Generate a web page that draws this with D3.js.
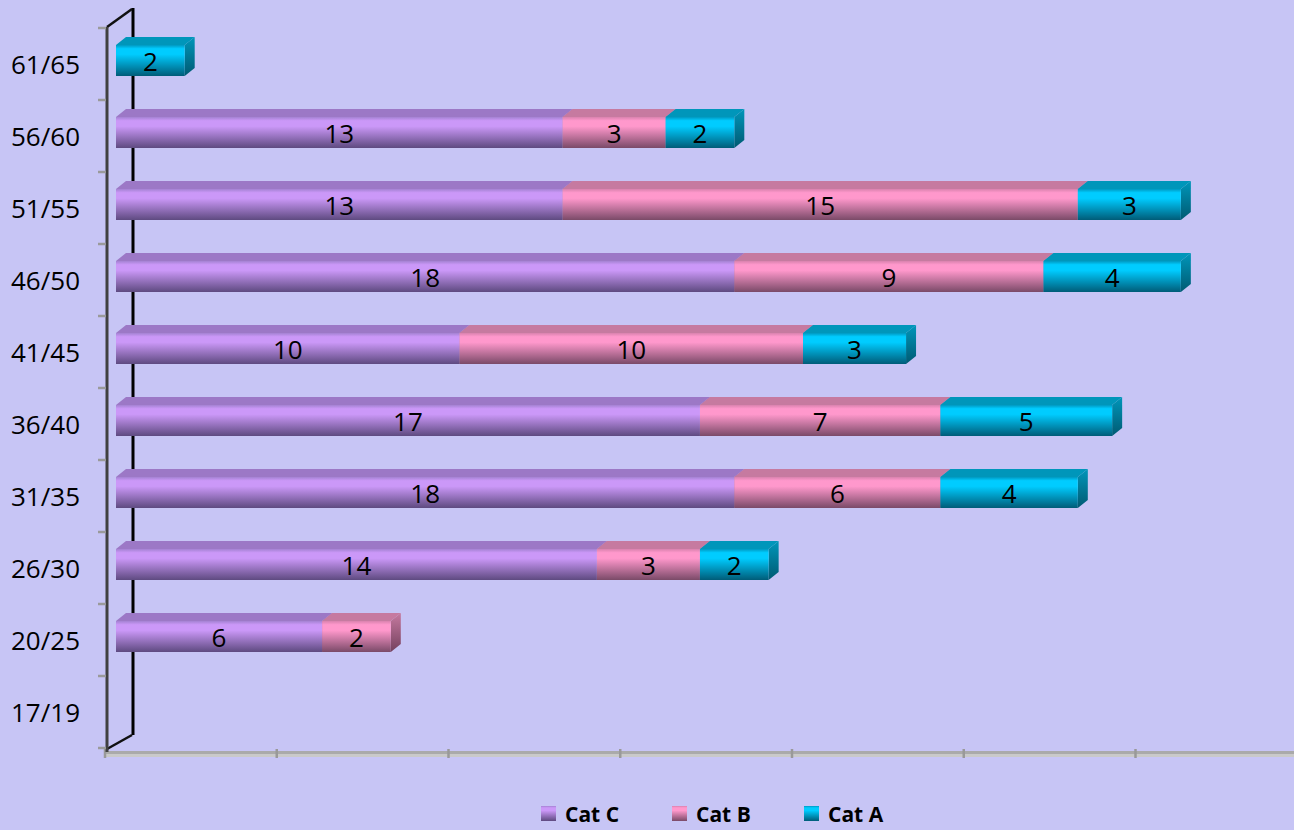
<!DOCTYPE html>
<html><head><meta charset="utf-8">
<script src="https://cdn.jsdelivr.net/npm/d3@7"></script>
<style>html,body{margin:0;padding:0;background:#c7c5f5;}svg{display:block;}</style>
</head><body>
<svg id="chart" width="1294" height="830"></svg>
<script>
const categories = ["17/19","20/25","26/30","31/35","36/40","41/45","46/50","51/55","56/60","61/65"];
const seriesNames = ["Cat C","Cat B","Cat A"];
const catC = [0, 6, 14, 18, 17, 10, 18, 13, 13, 0];
const catB = [0, 2, 3, 6, 7, 10, 9, 15, 3, 0];
const catA = [0, 0, 2, 4, 5, 3, 4, 3, 2, 2];
const xTicks = [0, 5, 10, 15, 20, 25, 30, 35];

const W = 1294, H = 830;
const svg = d3.select("#chart");
svg.append("rect").attr("width", W).attr("height", H).attr("fill", "#c7c5f5");

const x = d3.scaleLinear().domain([0, 35]).range([116, 116 + 35 * 34.35]);
const y = d3.scaleBand().domain(categories.slice().reverse()).range([28, 748]).paddingInner(0).paddingOuter(0);
const DX = 10, DY = 8, FACE_OFF = 17, FACE_H = 31;

const colors = {
  "Cat C": {light: "#cb98f8", mid: "#a482d2", dark: "#5e4a80", top: "#9c78c6", side: "#5a4478"},
  "Cat B": {light: "#ff98cc", mid: "#d982ae", dark: "#7a4a68", top: "#c67aa0", side: "#74405e"},
  "Cat A": {light: "#00ccff", mid: "#0098c0", dark: "#005c78", top: "#0096ba", side: "#005a72"}
};

const defs = svg.append("defs");
seriesNames.forEach((s, i) => {
  const c = colors[s];
  const g = defs.append("linearGradient").attr("id", "g" + i).attr("x1", 0).attr("y1", 0).attr("x2", 0).attr("y2", 1);
  g.append("stop").attr("offset", 0).attr("stop-color", c.mid);
  g.append("stop").attr("offset", 0.12).attr("stop-color", c.light);
  g.append("stop").attr("offset", 0.3).attr("stop-color", c.light);
  g.append("stop").attr("offset", 1).attr("stop-color", c.dark);
  const gs = defs.append("linearGradient").attr("id", "gs" + i).attr("x1", 0).attr("y1", 0).attr("x2", 0).attr("y2", 1);
  gs.append("stop").attr("offset", 0).attr("stop-color", c.top);
  gs.append("stop").attr("offset", 1).attr("stop-color", c.side);
});

// back wall line and connecting diagonals
svg.append("line").attr("x1", 133).attr("x2", 133).attr("y1", 8).attr("y2", 735)
  .attr("stroke", "#000").attr("stroke-width", 3);
svg.append("line").attr("x1", 107).attr("y1", 27).attr("x2", 132).attr("y2", 9)
  .attr("stroke", "#111").attr("stroke-width", 2.5);
svg.append("line").attr("x1", 107).attr("y1", 749).attr("x2", 132).attr("y2", 735)
  .attr("stroke", "#111").attr("stroke-width", 2.5);

// floor axis (front)
const FLOOR_SHIFT = -11;
svg.append("rect").attr("x", x(0) + FLOOR_SHIFT).attr("y", 751).attr("width", W).attr("height", 3).attr("fill", "#aaaaaa");
svg.append("rect").attr("x", x(0) + FLOOR_SHIFT).attr("y", 754).attr("width", W).attr("height", 3).attr("fill", "#c9c9c9");
svg.selectAll(".xtick").data(xTicks).join("line")
  .attr("x1", d => x(d) + FLOOR_SHIFT).attr("x2", d => x(d) + FLOOR_SHIFT)
  .attr("y1", 749).attr("y2", 758).attr("stroke", "#999").attr("stroke-width", 2.5);

// front-left value axis
svg.append("line").attr("x1", 107).attr("x2", 107).attr("y1", 27).attr("y2", 752)
  .attr("stroke", "#404040").attr("stroke-width", 3);
const yTickPos = categories.map(c => y(c)).concat([y.range()[1]]);
svg.selectAll(".ytick").data(yTickPos).join("line")
  .attr("x1", 98).attr("x2", 106).attr("y1", d => d).attr("y2", d => d)
  .attr("stroke", "#9a9a9a").attr("stroke-width", 2.5);

// category labels
svg.selectAll(".clabel").data(categories).join("text")
  .attr("x", 80).attr("y", d => y(d) + y.bandwidth() / 2)
  .attr("text-anchor", "end").attr("dominant-baseline", "central")
  .attr("font-family", "'Open Sans', sans-serif").attr("font-size", 26).attr("fill", "#000")
  .text(d => d);

// stacked data
const rows = categories.map((c, i) => ({cat: c, "Cat C": catC[i], "Cat B": catB[i], "Cat A": catA[i]}));
const stack = d3.stack().keys(seriesNames)(rows);

const segs = [];
rows.forEach((r, ri) => {
  stack.forEach((layer, si) => {
    const d = layer[ri];
    if (d[1] - d[0] > 0) segs.push({cat: r.cat, s: si, v0: d[0], v1: d[1], val: d[1] - d[0]});
  });
});

const barG = svg.append("g");
segs.forEach(sg => {
  const c = colors[seriesNames[sg.s]];
  const x0 = x(sg.v0), x1 = x(sg.v1);
  const top = y(sg.cat) + FACE_OFF, bot = top + FACE_H;
  const g = barG.append("g");
  g.append("path")
    .attr("d", `M${x1},${top}L${x1 + DX},${top - DY}L${x1 + DX},${bot - DY}L${x1},${bot}Z`)
    .attr("fill", `url(#gs${sg.s})`);
  g.append("path")
    .attr("d", `M${x0},${top}L${x0 + DX},${top - DY}L${x1 + DX},${top - DY}L${x1},${top}Z`)
    .attr("fill", c.top);
  g.append("rect").attr("x", x0).attr("y", top).attr("width", x1 - x0).attr("height", FACE_H)
    .attr("fill", `url(#g${sg.s})`);
});

// value labels
svg.selectAll(".vlabel").data(segs).join("text")
  .attr("x", d => (x(d.v0) + x(d.v1)) / 2)
  .attr("y", d => y(d.cat) + FACE_OFF + FACE_H / 2)
  .attr("text-anchor", "middle").attr("dominant-baseline", "central")
  .attr("font-family", "'Open Sans', sans-serif").attr("font-size", 26).attr("fill", "#000")
  .text(d => d.val);

// legend
const legendX = [541, 672, 804];
const lg = svg.selectAll(".leg").data(seriesNames).join("g")
  .attr("transform", (d, i) => `translate(${legendX[i]},806)`);
lg.append("rect").attr("width", 15).attr("height", 15).attr("fill", (d, i) => `url(#g${i})`);
lg.append("text").attr("x", 24).attr("y", 8).attr("dominant-baseline", "central")
  .attr("font-family", "'Open Sans', sans-serif").attr("font-weight", "bold").attr("font-size", 21)
  .attr("fill", "#000").text(d => d);
</script>
</body></html>
